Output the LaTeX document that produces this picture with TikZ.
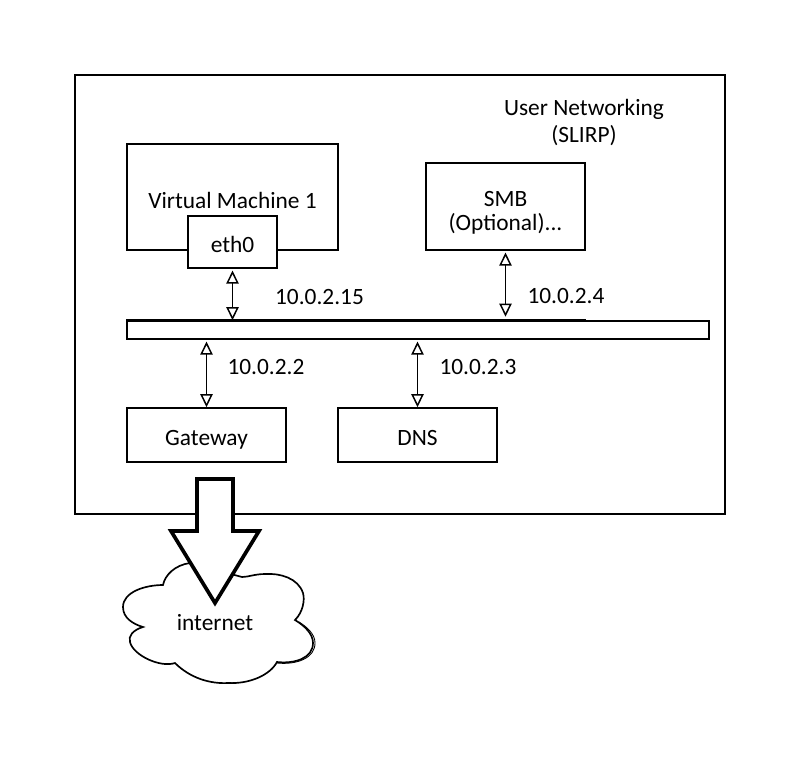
\documentclass[tikz,border=0pt]{standalone}
\usepackage{fontspec}
\setmainfont{Carlito}
\usetikzlibrary{arrows.meta}
\tikzset{
    sketchbox/.style={draw,line width=0.85pt,fill=white,inner sep=0pt,align=center},
    boxtext/.style={text height=11.4pt,text depth=0pt},
    iplabel/.style={inner sep=0pt,align=center},
    link/.style={line width=0.85pt,{Triangle[open,length=7.5pt,width=7pt]}-{Triangle[open,length=7.5pt,width=7pt]}}
}
\begin{document}
\begin{tikzpicture}[x=0.02cm,y=-0.02cm,font=\fontsize{13.3}{15.2}\selectfont]
    \useasboundingbox (0,0) rectangle (800,765);

    % Marco exterior
    \node[sketchbox,minimum width=13cm,minimum height=8.78cm] (frame) at (400,294.5) {};
    \node[iplabel] (title) at (584,122.5) {User Networking\\[0.5pt](SLIRP)};

    % Maquina virtual
    \node[sketchbox,minimum width=4.22cm,minimum height=2.12cm] (vm) at (232.5,197) {};
    \node[iplabel] (vmlabel) at (232.5,200) {Virtual Machine 1};
    \node[sketchbox,boxtext,minimum width=1.78cm,minimum height=1.04cm] (eth0) at (232.5,242) {eth0};

    \node[sketchbox,minimum width=3.18cm,minimum height=1.74cm] (smb) at (505.5,206.5) {};
    \node[iplabel] (smblabel) at (505.5,213) {SMB\\[-1.5pt](Optional)...};

    % Bus
    \node[sketchbox,minimum width=11.64cm,minimum height=0.36cm] (bus) at (418,330) {};
    \draw[line width=1.3pt] (bus.north west) -- (bus.north -| eth0.south);
    \draw[line width=1.05pt] (bus.north -| eth0.south) -- (bus.north -| smb.east);

    \node[sketchbox,boxtext,minimum width=3.18cm,minimum height=1.08cm] (gateway) at (206.5,435) {Gateway};
    \node[sketchbox,boxtext,minimum width=3.18cm,minimum height=1.08cm] (dns) at (417.5,435) {DNS};

    \draw[link,shorten <=1pt] (eth0.south) -- (eth0.south |- bus.north);
    \draw[link,shorten <=1pt,shorten >=2pt] (smb.south) -- (smb.south |- bus.north);
    \draw[link,shorten <=1pt] (gateway.north |- bus.south) -- (gateway.north);
    \draw[link,shorten <=1pt] (dns.north |- bus.south) -- (dns.north);

    \node[iplabel] (ipvm) at (319.5,297) {10.0.2.15};
    \node[iplabel] (ipsmb) at (566,296) {10.0.2.4};
    \node[iplabel] (ipgw) at (266,367) {10.0.2.2};
    \node[iplabel] (ipdns) at (478,367) {10.0.2.3};

    % Nube
    \draw[line width=0.95pt,fill=white] (190,563)
        .. controls (175,565) and (165,575) .. (163,585)
        .. controls (145,585) and (123,592) .. (123,607)
        .. controls (123,618) and (133,624) .. (143,627)
        .. controls (133,630) and (128,636) .. (130,642)
        .. controls (133,655) and (160,668) .. (175,663)
        .. controls (190,678) and (210,684) .. (228,683)
        .. controls (250,684) and (270,675) .. (277,662)
        .. controls (295,664) and (313,658) .. (313,643)
        .. controls (313,634) and (305,626) .. (295,620)
        .. controls (303,612) and (305,600) .. (303,593)
        .. controls (298,578) and (280,573) .. (265,574)
        .. controls (255,574) and (248,577) .. (242,577) -- cycle;
    \draw[line width=0.5pt] (277,663) .. controls (297,665) and (315,658) .. (315,643)
        .. controls (315,634) and (307,627) .. (299,622);
    \node[iplabel] (internet) at (215,623) {internet};

    % Flecha gruesa
    \draw[line width=2.1pt,fill=white,line join=miter] (197,479) -- (233,479) -- (233,531) -- (259,531)
        -- (215,603) -- (171,531) -- (197,531) -- cycle;
\end{tikzpicture}
\end{document}
